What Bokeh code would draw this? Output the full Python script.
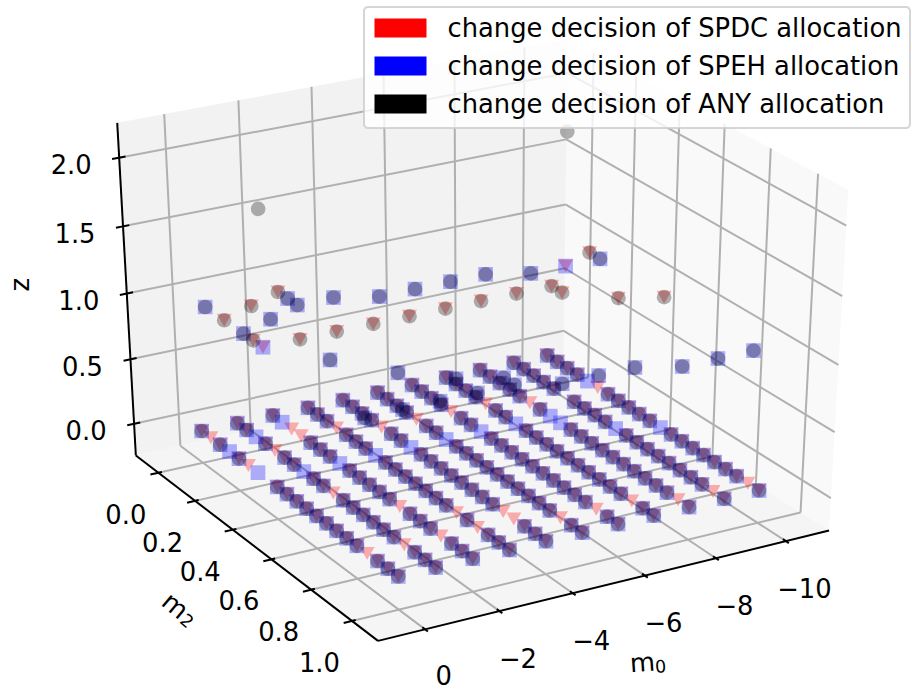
import numpy as np
from bokeh.plotting import figure
from bokeh.models import Range1d
from bokeh.core.properties import value
from bokeh.embed import file_html
from bokeh.resources import INLINE

M0_LIM = (-11.25, 1.25); M2_LIM = (-0.125, 1.125); Z_LIM = (-0.25, 2.25)
m0_ticks = [0, -2, -4, -6, -8, -10]
m2_ticks = [0.0, 0.2, 0.4, 0.6, 0.8, 1.0]
z_ticks = [0.0, 0.5, 1.0, 1.5, 2.0]
m0_values = [0, -1, -2, -3, -4, -5, -6, -7, -8, -9, -10]
m2_values = [0.0,0.05,0.1,0.15,0.2,0.25,0.3,0.35,0.4,0.45,0.5,0.55,0.6,0.65,0.7,0.75,0.8,0.85,0.9,0.95,1.0]
# D = all three decisions change at z=0, T = SPDC only, B = SPEH only, X = none at z=0
floor_cells = ["DTDBDTBXDDDDDDDDDTDDD","DDBDTDDBDDTDDDDDDTDDD","DBTTDDDBDDDDDTDDDTDDD","DDDTDDDBDDDDDDDTDTDDD",
 "DDDDTDDBDDDDDDDDTTDDD","DDDDTDDBDDDDDDDDDDTDD","DDDDTDDBDDDDDDDDDDTDD","DDDDTDDBDDDDDDDDDDTDD",
 "DDDDDTDBBDDDDDDDDDDTD","DDDDDXDDDDBDDDDDDDDTD","DDDDBTDDDDDBDDDDDDDTD"]
# points at z = 1
speh_any_m0 = [0,0,-1,-2,-2,-3,-4,-5,-6,-7,-8,-10,-1,-2,0,-1,-2,-3,-3,-4,-4,-5,-6,-7,-8,-9,-10]
speh_any_m2 = [.05,.25,.2,.1,.15,.15,.2,.2,.2,.2,.25,.25,.5,.65,.85,.85,.85,.75,.85,.8,.85,.9,.9,.9,.95,.95,.95]
spdc_any_m0 = [0,-1,-2,0,-1,-2,-3,-4,-5,-6,-7,-8,-8,-10,-9,-10]
spdc_any_m2 = [.15,.1,.05,.3,.35,.35,.35,.35,.35,.35,.35,.35,.4,.2,.5,.55]
both_m0 = [0,-9]
both_m2 = [.35,.25]
# points at z = 2, any allocation only
top_m0 = [0,-9]
top_m2 = [.35,.25]
legend_names = ["change decision of SPDC allocation","change decision of SPEH allocation","change decision of ANY allocation"]
legend_colors = ["red","blue","black"]

# camera calibration (data -> picture)
calib = [((0,0,0),(200.7,430)),((0,1,0),(396.7,575)),((-10,0,0),(546.7,355)),((-10,1,0),(757.7,490)),
 ((1.25,-.125,-.25),(135,455)),((1.25,1.125,-.25),(376.7,640)),((-11.25,1.125,-.25),(828.3,529.3)),
 ((1.25,-.125,2.25),(117,122.3)),((-11.25,1.125,2.25),(847.7,189.3)),
 ((1.25,-.125,2),(118.3,157.5)),((1.25,-.125,1),(126.7,293.7)),((1.25,-.125,0),(133.3,423.3)),
 ((-11.25,-.125,0),(563,330)),((-11.25,-.125,.5),(565,269)),((-11.25,-.125,1),(565,204)),((-11.25,-.125,1.5),(565.7,138)),
 ((-10,1.125,-.25),(785.7,541)),((-6,1.125,-.25),(645,575.7)),((0,1.125,-.25),(426,630)),
 ((1.25,0,-.25),(158,472)),((1.25,.6,-.25),(271.7,558)),((1.25,1,-.25),(351.7,621))]
A=[]
for (X,Y,Z),(u,v) in calib:
    w=[X/10,Y,Z/2,1]; u/=500; v/=500
    A.append(w+[0,0,0,0]+[-u*t for t in w]); A.append([0,0,0,0]+w+[-v*t for t in w])
P=np.linalg.svd(np.array(A))[2][-1].reshape(3,4)
def proj(X,Y,Z):
    X=np.asarray(X,float);Y=np.asarray(Y,float);Z=np.asarray(Z,float)
    w=[X/10,Y,Z/2,np.ones_like(X)]
    a=sum(P[0,i]*w[i] for i in range(4));b=sum(P[1,i]*w[i] for i in range(4));c=sum(P[2,i]*w[i] for i in range(4))
    return a/c*500,b/c*500

p=figure(width=912,height=689,x_range=Range1d(0,912),y_range=Range1d(689,0),output_backend="svg",toolbar_location=None,
         min_border=0,outline_line_color=None,x_axis_location=None,y_axis_location=None)
p.grid.visible=False
x0,x1=M0_LIM;y0,y1=M2_LIM;z0,z1=Z_LIM
def wall(c,col):
    u,v=proj(*zip(*c)); p.patch(list(u),list(v),fill_color=col,line_color=None)
wall([(x0,y0,z0),(x0,y1,z0),(x0,y1,z1),(x0,y0,z1)],"#f9f9f9")
wall([(x0,y0,z0),(x1,y0,z0),(x1,y0,z1),(x0,y0,z1)],"#f2f2f2")
wall([(x0,y0,z0),(x1,y0,z0),(x1,y1,z0),(x0,y1,z0)],"#f5f5f5")
segs=[]
for m in m0_ticks: segs+= [((m,y0,z0),(m,y1,z0)),((m,y0,z0),(m,y0,z1))]
for m in m2_ticks: segs+= [((x1,m,z0),(x0,m,z0)),((x0,m,z0),(x0,m,z1))]
for z in z_ticks: segs+= [((x1,y0,z),(x0,y0,z)),((x0,y0,z),(x0,y1,z))]
def ml(segs,col,w):
    xs=[];ys=[]
    for a,b in segs:
        u,v=proj(*zip(a,b)); xs.append(list(u)); ys.append(list(v))
    p.multi_line(xs,ys,line_color=col,line_width=w)
ml(segs,"#b0b0b0",2)
ax=[((x1,y0,z0),(x1,y1,z0)),((x1,y1,z0),(x0,y1,z0)),((x1,y0,z0),(x1,y0,z1))]
for m in m0_ticks: ax.append(((m,y1-.013,z0),(m,y1+.013,z0)))
for m in m2_ticks: ax.append(((x1-.1,m,z0),(x1+.22,m,z0)))
for z in z_ticks: ax.append(((x1-.17,y0,z),(x1+.19,y0,z)))
ml(ax,"black",2)

cir=[];tri=[];sq=[]
for r,row in enumerate(floor_cells):
    for c,k in enumerate(row):
        pt=(m0_values[r],m2_values[c],0.0)
        if k=='D': cir.append(pt);tri.append(pt);sq.append(pt)
        if k=='T': tri.append(pt)
        if k=='B': sq.append(pt)
for a,b in zip(speh_any_m0,speh_any_m2): cir.append((a,b,1.0)); sq.append((a,b,1.0))
for a,b in zip(spdc_any_m0,spdc_any_m2): cir.append((a,b,1.0)); tri.append((a,b,1.0))
for a,b in zip(both_m0,both_m2): tri.append((a,b,1.0)); sq.append((a,b,1.0))
for a,b in zip(top_m0,top_m2): cir.append((a,b,2.0))
u,v=proj(*zip(*tri)); p.scatter(u,np.array(v)-2.17,marker="inverted_triangle",size=15,fill_color="red",fill_alpha=.3,line_color=None)
u,v=proj(*zip(*sq)); p.scatter(u,v,marker="square",size=14.7,fill_color="blue",fill_alpha=.3,line_color=None)
u,v=proj(*zip(*cir)); p.scatter(u,v,marker="circle",size=14.7,fill_color="black",fill_alpha=.3,line_color=None)

F=value("DejaVu Sans")
FS="25.8px"
def T(x,y,t,size=FS,angle=0,align="center"):
    p.text([x],[y],text=[t],text_font=F,text_font_size=value(size),text_align=align,text_baseline="middle",angle=angle,text_color="black")
for z in z_ticks:
    a,b=proj(x1,y0,z); T(float(a)-48,float(b)+6.5,f"{z:.1f}")
for m in m2_ticks:
    a,b=proj(x1,m,z0); T(float(a)-32.5,float(b)+41,f"{m:.1f}")
for m in m0_ticks:
    a,b=proj(m,y1,z0)
    yy=min(float(b)+46.5,674.0)
    T(float(a)+18.5,yy,str(m).replace("-","\u2212"))
T(19.3,284.3,"z",angle=np.pi/2)
T(642,662,"m",angle=0.07)
T(660,665.5,"0",size="17.5px",angle=0.07)
T(174.8,604.9,"m",angle=-0.7)
T(186.7,620,"2",size="17.5px",angle=-0.7)

# legend
L,Rr,Tp,Bt=363.5,909.5,6.5,127.5;rad=4
th=np.linspace(0,np.pi/2,6)
lx=list(Rr-rad+rad*np.sin(th))+list(Rr-rad+rad*np.cos(th))+list(L+rad-rad*np.sin(th))+list(L+rad-rad*np.cos(th))
ly=list(Tp+rad-rad*np.cos(th))+list(Bt-rad+rad*np.sin(th))+list(Bt-rad+rad*np.cos(th))+list(Tp+rad-rad*np.sin(th))
p.patch(lx,ly,fill_color="white",fill_alpha=.8,line_color="#cccccc",line_alpha=.8,line_width=2)
ypos=[27.5,65.5,103.5]
for n,c,y in zip(legend_names,legend_colors,ypos):
    p.quad(left=[374],right=[426],top=[y-9.5],bottom=[y+9.5],fill_color=c,line_color=None)
    T(447,y,n,align="left")
open("out.html","w").write(file_html(p,INLINE))
